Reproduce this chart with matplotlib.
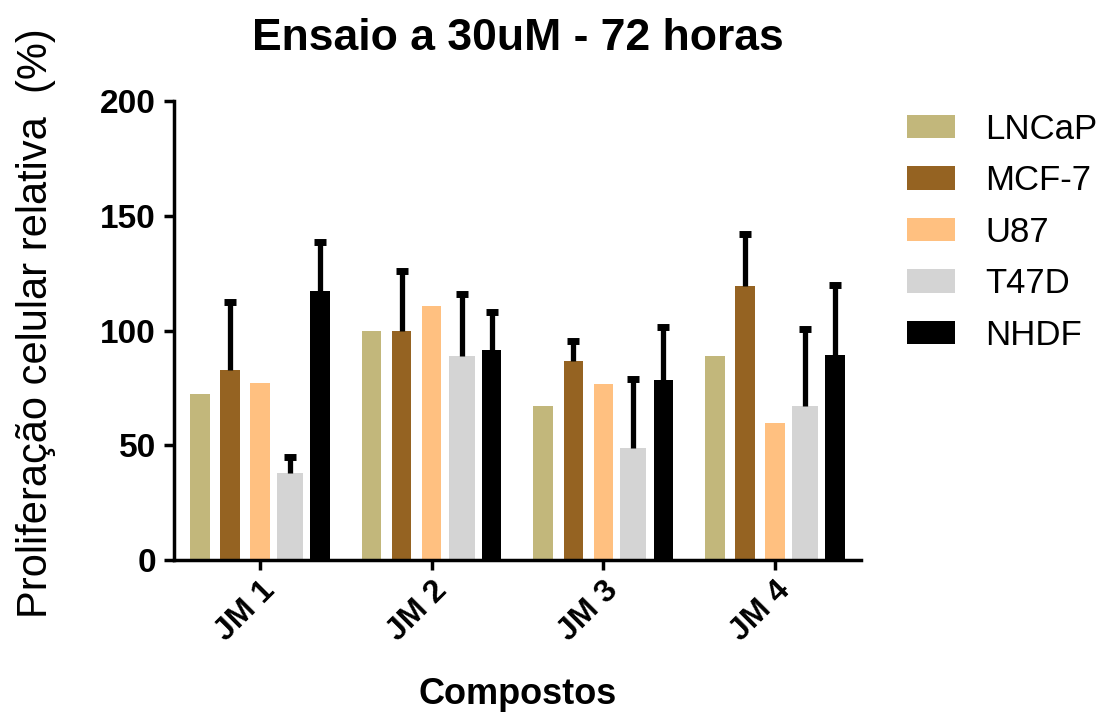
import numpy as np
import matplotlib
matplotlib.use("Agg")
import matplotlib.pyplot as plt
import matplotlib.transforms as mtransforms

plt.rcParams['font.family'] = ['Liberation Sans', 'DejaVu Sans']

# dados
compostos = ['JM 1', 'JM 2', 'JM 3', 'JM 4']
linhas = ['LNCaP', 'MCF-7', 'U87', 'T47D', 'NHDF']
cores = ['#C2B77B', '#956322', '#FFC080', '#D4D4D4', '#000000']

lncap = [72.5, 100, 67, 89]
mcf7 = [83, 100, 86.5, 119.5]
u87 = [77, 110.5, 76.5, 59.5]
t47d = [38, 89, 49, 67]
nhdf = [117, 91.5, 78.5, 89.5]

# so o desvio superior aparece
err_lncap = [0, 0, 0, 0]
err_mcf7 = [29.5, 26, 9, 22.5]
err_u87 = [0, 0, 0, 0]
err_t47d = [7, 27, 30, 33.5]
err_nhdf = [21.5, 16.5, 23, 30.5]

valores = [lncap, mcf7, u87, t47d, nhdf]
erros = [err_lncap, err_mcf7, err_u87, err_t47d, err_nhdf]

fig = plt.figure(figsize=(11.01, 7.15), dpi=100)
ax = fig.add_axes([0.158, 0.2168, 0.624, 0.6419])

x = np.arange(len(compostos))
passo = 0.175
larguras = [0.114, 0.114, 0.114, 0.152, 0.114]

for i in range(len(linhas)):
    pos = x + (i - 2) * passo
    ax.bar(pos, valores[i], width=larguras[i], color=cores[i], label=linhas[i], zorder=2)
    if max(erros[i]) > 0:
        eb = ax.errorbar(pos, valores[i], yerr=[np.zeros(4), erros[i]], fmt='none',
                         ecolor='black', elinewidth=3.8, capsize=4, capthick=5, zorder=3)
        eb[1][0].set_visible(False)  # sem cap inferior

ax.set_xlim(-0.5, 3.5)
ax.set_ylim(0, 200)
ax.set_yticks([0, 50, 100, 150, 200])
ax.set_xticks(x)
ax.set_xticklabels(compostos, rotation=45, ha='right', rotation_mode='anchor',
                   fontsize=23, fontweight='bold')
desloc = mtransforms.ScaledTranslation(-10 / 100, 0, fig.dpi_scale_trans)
for lbl in ax.get_xticklabels():
    lbl.set_transform(lbl.get_transform() + desloc)
for lbl in ax.get_yticklabels():
    lbl.set_fontsize(24)
    lbl.set_fontweight('bold')

for s in ['top', 'right']:
    ax.spines[s].set_visible(False)
for s in ['left', 'bottom']:
    ax.spines[s].set_linewidth(2.5)
ax.tick_params(axis='both', width=2.5, length=7)
ax.tick_params(axis='y', pad=6)
ax.tick_params(axis='x', pad=4)

ax.set_title('Ensaio a 30uM - 72 horas', fontsize=32, fontweight='bold', pad=37)
ax.set_ylabel('Proliferação celular relativa  (%)', fontsize=30)
ax.yaxis.set_label_coords(-0.172, 0.517)
ax.set_xlabel('Compostos', fontsize=26, fontweight='bold')
ax.xaxis.set_label_coords(0.5, -0.255)

ax.legend(loc='upper left', bbox_to_anchor=(0.824, 0.842), bbox_transform=fig.transFigure,
          frameon=False, fontsize=25, handlelength=1.38, handleheight=0.66,
          handletextpad=0.86, labelspacing=0.53, borderpad=0, borderaxespad=0)

fig.savefig('out.png', dpi=100)
